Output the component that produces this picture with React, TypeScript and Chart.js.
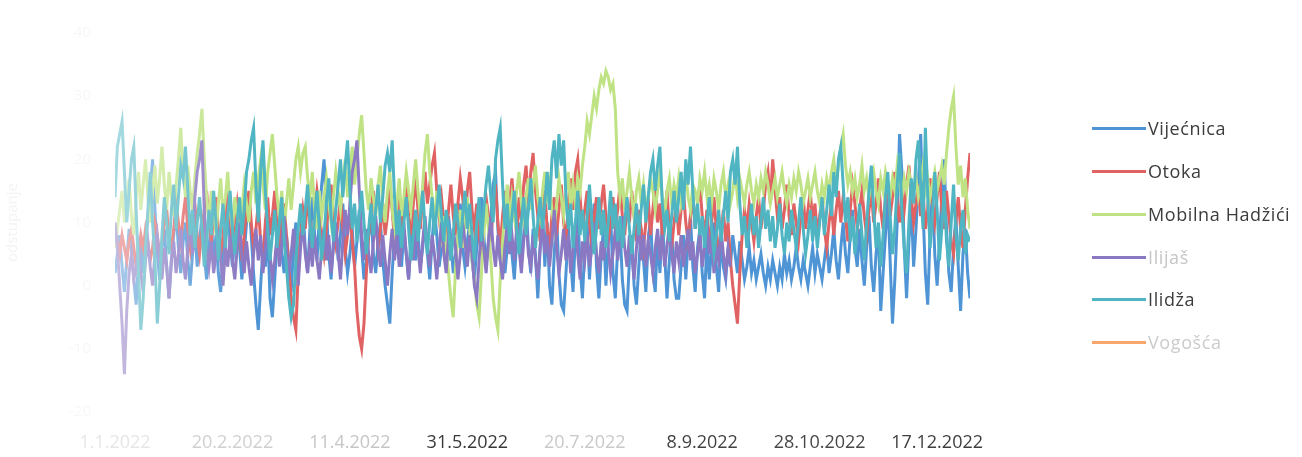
import React, { useEffect, useRef } from 'react';
import { Chart, registerables } from 'chart.js';

Chart.register(...registerables);

// ---- data ----
const SERIES_NAMES = ['Vijećnica', 'Otoka', 'Mobilna Hadžići', 'Ilijaš', 'Ilidža', 'Vogošća'];
const SERIES_COLORS = ['#4f95d6', '#e06262', '#bfe384', '#8b78c2', '#4fb5c2', '#f9a66a'];
const LEGEND_TEXT_COLORS = ['#3c3c3c', '#3c3c3c', '#3c3c3c', '#c6c6c6', '#3c3c3c', '#cbcbcb'];

// one value per day, starting 1.1.2022
const DAY_STEP = 1;

const X_TICK_DAYS = [0, 50, 100, 150, 200, 250, 300, 350];
const X_TICK_LABELS = ['1.1.2022', '20.2.2022', '11.4.2022', '31.5.2022', '20.7.2022', '8.9.2022', '28.10.2022', '17.12.2022'];
const X_TICK_COLORS = ['#e6e6e6', '#d0d0d0', '#c6c6c6', '#383838', '#c9c9c9', '#424242', '#484848', '#3e3e3e'];

const Y_MIN = -20;
const Y_MAX = 40;
const Y_STEP = 10;
const Y_TITLE = 'odstupanje';

const vijecnica = [
  2, 5, 8, 3, -1, 4, 9, 6, 1, -3,
  4, 7, 2, 6, 11, 15, 20, 12, 5, 1,
  6, 9, 3, -2, 4, 8, 12, 6, 2, 7,
  10, 4, 0, 5, 9, 3, 7, 11, 5, 1,
  6, 10, 4, 8, 2, -1, 5, 9, 13, 7,
  3, 8, 12, 6, 1, 5, 10, 14, 8, 2,
  -3, -7, 0, 6, 3, 9, -2, -5, 1, 7,
  11, 5, 2, 8, 4, -1, 6, 10, 3, 7,
  12, 6, 2, 9, 14, 8, 4, 11, 16, 20,
  12, 5, 1, 7, 10, 4, 8, 13, 6, 2,
  5, 9, 3, 7, 12, 6, 1, 4, 8, 11,
  5, 2, 7, 10, 4, 0, -3, -6, 2, 8,
  12, 6, 3, 9, 5, 1, 7, 11, 4, 8,
  3, 6, 10, 5, 1, 7, 12, 8, 3, 6,
  9, 4, 11, 7, 2, 5, 8, 13, 6, 3,
  7, 10, 4, 1, 6, 9, 14, 8, 3, 7,
  11, 16, 18, 9, 4, 8, 2, 6, 12, 5,
  1, 7, 10, 4, 8, 13, 6, 2, 9, 5,
  -2, 6, 12, 3, 10, 0, -3, 5, 11, 2,
  -3, -4, 2, 9, 4, -1, 8, 12, 3, -2,
  6, 10, 1, 8, 13, 3, -2, 5, 9, 0,
  7, 11, 2, -2, 6, 9, 1, -3, -4, 4,
  8, 0, -3, 3, 9, 4, -1, 7, 11, 2,
  -1, 8, 2, 10, 5, -2, 4, 9, 1, -2,
  -2, 3, 8, 1, 7, 11, 3, -1, 6, 9,
  2, -2, 7, 1, 6, 10, 3, -1, 8, 3,
  1, 6, 3, 8, 5, 2, 7, 4, 1, 3,
  6, 2, 4, 1, 3, 5, 2, 0, 3, 1,
  4, 2, 0, 3, 1, 5, 2, 4, 1, 3,
  6, 3, 1, 4, 2, 0, 3, 6, 2, 5,
  3, 1, 4, 7, 2, 5, 9, 4, 1, 6,
  10, 5, 2, 8, 12, 6, 3, 9, 4, 0,
  6, 11, 3, -1, 5, 9, -4, 2, 8, 14,
  4, -6, 1, 10, 24, 18, 6, -2, 7, 13,
  3, 9, 16, 24, 12, 2, -3, 8, 15, 5,
  0, 7, 14, 20, 9, 2, -1, 6, 11, 3,
  -4, 5, 9, 2, -2,
];

const otoka = [
  9, 7, 5, 8, 6, 4, 7, 9, 6, 3,
  5, 8, 6, 9, 7, 4, 6, 10, 8, 5,
  7, 10, 12, 8, 6, 9, 13, 10, 7, 11,
  14, 9, 6, 10, 13, 8, 5, 9, 12, 15,
  10, 7, 11, 14, 9, 5, 8, 12, 16, 11,
  7, 10, 13, 9, 4, 8, 12, 15, 10, 6,
  9, 13, 7, 4, 10, 14, 8, 11, 15, 9,
  6, 10, 13, 8, 3, -2, -5, -7, 2, 8,
  12, 9, 14, 10, 6, 11, 15, 12, 8, 5,
  9, 13, 16, 11, 7, 10, 14, 9, 5, 8,
  12, 7, 3, -4, -8, -10, -6, 2, 8, 12,
  15, 10, 6, 9, 13, 8, 11, 16, 12, 7,
  10, 14, 9, 12, 16, 11, 8, 13, 17, 12,
  9, 14, 18, 13, 16, 19, 21, 15, 11, 14,
  10, 7, 12, 16, 11, 8, 13, 17, 14, 10,
  15, 18, 12, 9, 13, 8, 5, 10, 14, 11,
  7, 12, 16, 10, 6, 11, 15, 9, 13, 17,
  12, 8, 14, 10, 16, 19, 13, 18, 21, 15,
  11, 7, 12, 15, 9, 6, 11, 14, 8, 12,
  16, 10, 7, 13, 17, 12, 18, 20, 14, 9,
  12, 15, 10, 6, 11, 14, 9, 13, 16, 11,
  7, 10, 14, 9, 12, 16, 11, 8, 13, 10,
  15, 11, 7, 12, 9, 6, 10, 14, 8, 12,
  16, 10, 13, 8, 11, 15, 9, 6, 10, 13,
  8, 12, 15, 10, 7, 11, 14, 9, 13, 16,
  11, 8, 12, 6, 10, 14, 9, 5, 8, 12,
  7, 10, 4, 0, -3, -6, 2, 8, 12, 9,
  13, 10, 7, 11, 14, 9, 12, 16, 18, 13,
  20, 15, 11, 14, 9, 12, 16, 11, 8, 13,
  10, 7, 11, 14, 9, 12, 15, 10, 13, 8,
  11, 14, 9, 6, 10, 13, 8, 12, 15, 10,
  14, 11, 7, 12, 16, 13, 9, 12, 15, 11,
  8, 12, 15, 10, 13, 17, 12, 9, 14, 16,
  11, 14, 18, 13, 10, 15, 12, 16, 19, 14,
  10, 13, 16, 11, 15, 9, 12, 17, 13, 10,
  14, 18, 12, 9, 15, 11, 7, 5, 10, 14,
  9, 6, 12, 17, 21,
];

const mobilnaHadzici = [
  6, 9, 12, 15, 10, 13, 17, 11, 8, 14,
  18, 12, 16, 20, 14, 10, 15, 19, 13, 17,
  22, 16, 12, 18, 14, 11, 16, 20, 25, 18,
  14, 19, 15, 12, 17, 21, 24, 28, 20, 14,
  10, 15, 12, 8, 13, 17, 11, 14, 18, 12,
  9, 14, 11, 7, 12, 16, 13, 10, 15, 18,
  13, 17, 20, 16, 12, 18, 21, 24, 19, 14,
  11, 15, 9, 13, 17, 12, 16, 20, 22, 18,
  21, 22, 17, 14, 18, 12, 9, 15, 11, 14,
  17, 13, 10, 14, 18, 15, 12, 16, 20, 14,
  18, 22, 16, 20, 24, 27, 21, 15, 12, 17,
  14, 11, 16, 19, 13, 10, 15, 18, 12, 9,
  13, 17, 11, 14, 18, 15, 12, 16, 20, 15,
  11, 16, 21, 24, 18, 14, 10, 15, 12, 8,
  11, 6, 2, -2, -5, 3, 8, 12, 6, 10,
  14, 9, 4, 1, -3, -5, 2, 8, 13, 9,
  4, -2, -5, -7, 1, 7, 12, 16, 10, 14,
  11, 15, 18, 13, 10, 14, 17, 12, 16, 19,
  14, 11, 15, 18, 13, 16, 12, 9, 13, 17,
  14, 11, 15, 18, 12, 16, 13, 17, 15, 19,
  22, 26, 24, 27, 30, 28, 31, 33, 32, 34,
  33, 31, 32, 28, 18, 14, 17, 12, 15, 18,
  14, 11, 15, 17, 13, 16, 12, 14, 17, 15,
  12, 15, 18, 14, 11, 15, 17, 13, 16, 14,
  17, 13, 15, 18, 14, 12, 16, 15, 13, 17,
  15, 18, 14, 16, 13, 17, 15, 12, 16, 18,
  14, 16, 13, 15, 18, 14, 17, 15, 13, 16,
  18, 15, 13, 16, 14, 17, 15, 18, 16, 13,
  15, 17, 14, 16, 18, 15, 13, 16, 14, 17,
  15, 18, 16, 13, 15, 17, 14, 16, 18, 15,
  13, 16, 14, 17, 15, 18, 20, 16, 19, 22,
  24, 19, 16, 18, 15, 17, 14, 16, 19, 15,
  17, 14, 16, 18, 15, 13, 17, 15, 18, 16,
  14, 17, 15, 19, 16, 14, 17, 15, 18, 16,
  15, 17, 14, 16, 19, 15, 17, 14, 16, 18,
  15, 17, 19, 16, 21, 25, 28, 30, 22, 16,
  19, 14, 17, 12, 9,
];

const ilijas = [
  10, 6, 0, -6, -14, -4, 2, 5, 1, 3,
  6, 2, -1, 4, 7, 3, 0, 5, 8, 4,
  1, 6, 3, -2, 4, 7, 2, 5, 9, 4,
  1, 6, 10, 5, 14, 18, 20, 23, 12, 6,
  3, 7, 2, 5, 9, 4, 0, 6, 3, 8,
  4, 1, 6, 10, 5, 2, 7, 3, 0, 5,
  9, 4, 8, 2, 6, 10, 5, 1, 4, 8,
  3, 7, 11, 6, 2, 5, 9, 4, 0, 6,
  10, 5, 2, 7, 3, 8, 4, 1, 6, 9,
  4, 8, 2, 6, 10, 5, 1, 7, 12, 8,
  13, 18, 20, 23, 15, 8, 4, 9, 5, 2,
  7, 11, 6, 3, 8, 4, 0, 5, 9, 4,
  8, 3, 6, 10, 5, 1, 7, 4, 9, 6,
  2, 7, 11, 6, 3, 8, 5, 1, 6, 10,
  5, 2, 8, 4, 9, 6, 1, 5, 10, 7,
  3, 8, 5, 0, -2, 4, 9, 6, 2, 7,
  11, 6, 3, 8, 4, 1, 6, 10, 5, 8,
  4, 9, 6, 2, 7, 11, 5, 3, 8, 4,
  1, 6, 10, 5, 8, 3, 7, 12, 6, 2,
  5, 9, 4, 8, 2, 6, 10, 5, 1, 7,
  4, 8, 3, 6, 10, 5, 2, 7, 4, 9,
  6, 2, 5, 9, 4, 7, 11, 6, 3, 8,
  5, 1, 6, 10, 4, 8, 3, 7, 5, 2,
  6, 9, 4, 8, 3, 6, 10, 5, 2, 7,
  4, 8, 3, 6, 9, 4, 7, 2, 5, 8,
  3, 6, 10, 5, 8, 2, 6, 4, 9, 5,
  2, 6, 3,
];

const ilidza = [
  14, 22, 24, 26, 18, 10, 15, 20, 22, 12,
  2, -7, -2, 6, 12, 18, 10, 4, -6, 0,
  8, 14, 10, 5, 12, 16, 9, 14, 19, 17,
  22, 15, 8, 12, 6, 10, 14, 9, 3, 7,
  12, 8, 15, 10, 4, 9, 13, 6, 11, 15,
  9, 5, 10, 14, 8, 12, 18, 20, 23, 25,
  16, 10, 18, 23, 15, 9, 4, 8, 12, 6,
  10, 14, 7, 3, -2, -5, -3, 4, 9, 13,
  8, 12, 16, 10, 6, 11, 15, 9, 4, 8,
  13, 17, 11, 7, 12, 16, 20, 14, 19, 23,
  15, 9, 13, 7, 11, 15, 10, 5, 9, 13,
  8, 12, 16, 10, 14, 19, 21, 18, 23, 14,
  8, 12, 6, 10, 14, 9, 4, 8, 12, 7,
  11, 15, 9, 5, 10, 14, 8, 12, 16, 11,
  7, 12, 9, 4, 8, 13, 10, 6, 11, 15,
  9, 13, 8, 4, 10, 14, 7, 12, 16, 19,
  14, 10, 20, 23, 25, 16, 9, 13, 7, 11,
  15, 9, 5, 10, 14, 8, 12, 17, 11, 6,
  10, 14, 9, 13, 18, 12, 20, 23, 17, 24,
  19, 23, 14, 9, 13, 6, 10, 15, 8, 12,
  7, 11, 16, 10, 5, 9, 14, 8, 12, 6,
  10, 15, 9, 13, 7, 11, 6, 10, 14, 9,
  5, 9, 13, 8, 12, 16, 10, 14, 18, 20,
  15, 19, 22, 13, 9, 12, 7, 11, 15, 10,
  14, 18, 12, 20, 16, 22, 15, 9, 13, 8,
  11, 6, 10, 14, 9, 5, 8, 12, 7, 11,
  15, 10, 18, 20, 16, 22, 13, 8, 11, 6,
  9, 13, 8, 11, 6, 10, 14, 9, 12, 7,
  11, 6, 9, 13, 8, 5, 10, 7, 12, 9,
  6, 10, 14, 9, 5, 8, 12, 7, 11, 6,
  10, 14, 8, 12, 16, 11, 18, 14, 20, 22,
  16, 10, 14, 7, 11, 5, 9, 13, 8, 4,
  10, 15, 19, 12, 6, 10, 3, 8, 14, 18,
  11, 5, 9, 16, 21, 12, 6, 2, 10, 17,
  13, 20, 23, 16, 9, 25, 14, 6, 11, 18,
  12, 4, 9, 15, 7, 3, 10, 16, 8, 4,
  9, 12, 5, 8, 7,
];

const vogosca: number[] = [];

const SERIES_VALUES = [vijecnica, otoka, mobilnaHadzici, ilijas, ilidza, vogosca];

const FONT = '"Open Sans", "DejaVu Sans", sans-serif';

const fadePlugin = {
  id: 'scanFade',
  afterDatasetsDraw(chart: any) {
    const { ctx, chartArea } = chart;
    const g = ctx.createLinearGradient(chartArea.left, 0, chartArea.left + 130, 0);
    g.addColorStop(0, 'rgba(255,255,255,0.5)');
    g.addColorStop(1, 'rgba(255,255,255,0)');
    ctx.save();
    ctx.fillStyle = g;
    ctx.fillRect(chartArea.left - 6, chartArea.top - 10, 136, chartArea.bottom - chartArea.top + 10);
    ctx.restore();
  },
};

export default function App() {
  const canvasRef = useRef<HTMLCanvasElement | null>(null);

  useEffect(() => {
    if (!canvasRef.current) return;
    const datasets = SERIES_NAMES.map((name, si) => ({
      label: name,
      data: SERIES_VALUES[si].map((v, i) => ({ x: i * DAY_STEP, y: v })),
      borderColor: SERIES_COLORS[si],
      backgroundColor: SERIES_COLORS[si],
      borderWidth: 3,
      pointRadius: 0,
      tension: 0,
      fill: false,
      order: SERIES_NAMES.length - si,
    }));

    const chart = new Chart(canvasRef.current, {
      type: 'line',
      data: { datasets },
      plugins: [fadePlugin],
      options: {
        animation: false,
        responsive: false,
        devicePixelRatio: 1,
        layout: { padding: { top: 23, right: 332, left: 0, bottom: 0 } },
        plugins: {
          legend: { display: false },
          tooltip: { enabled: false },
        },
        scales: {
          x: {
            type: 'linear',
            min: 0,
            max: 364,
            grid: { display: false, drawTicks: false },
            border: { display: false },
            afterBuildTicks: (s: any) => {
              s.ticks = X_TICK_DAYS.map((v) => ({ value: v }));
            },
            afterFit: (s: any) => {
              s.height = 45;
            },
            ticks: {
              autoSkip: false,
              maxRotation: 0,
              padding: 20,
              font: { family: FONT, size: 18 },
              color: (c: any) => X_TICK_COLORS[c.index] || '#404040',
              callback: (_v: any, i: number) => X_TICK_LABELS[i],
            },
          },
          y: {
            min: Y_MIN,
            max: Y_MAX,
            grid: { display: false, drawTicks: false },
            border: { display: false },
            afterFit: (s: any) => {
              s.width = 115;
            },
            ticks: {
              stepSize: Y_STEP,
              padding: 24,
              color: '#f7f7f7',
              font: { family: FONT, size: 15 },
            },
            title: {
              display: true,
              text: Y_TITLE,
              color: '#f3f3f3',
              font: { family: FONT, size: 15 },
            },
          },
        },
      },
    });
    return () => chart.destroy();
  }, []);

  const legendTop = [128, 171, 214, 257, 299, 342];

  return (
    <div style={{ position: 'absolute', left: 0, top: 0, width: 1302, height: 457, background: '#ffffff', overflow: 'hidden' }}>
      <canvas ref={canvasRef} width={1302} height={457} style={{ position: 'absolute', left: 0, top: 0, width: 1302, height: 457 }} />
      {SERIES_NAMES.map((name, i) => (
        <div key={name} style={{ position: 'absolute', left: 1092, top: legendTop[i] - 13, height: 26, display: 'flex', alignItems: 'center', whiteSpace: 'nowrap' }}>
          <div style={{ width: 54, height: 3, background: SERIES_COLORS[i] }} />
          <span style={{ marginLeft: 2, fontFamily: FONT, fontSize: 18, letterSpacing: 0.6, color: LEGEND_TEXT_COLORS[i] }}>{name}</span>
        </div>
      ))}
    </div>
  );
}
